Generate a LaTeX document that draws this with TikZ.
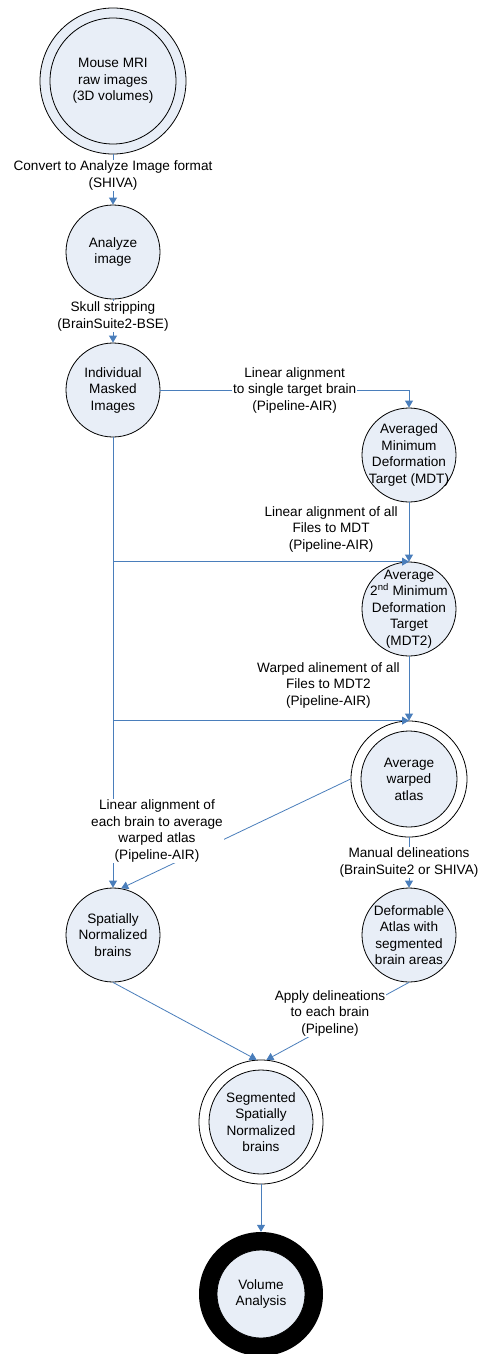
\documentclass[tikz,border=0pt]{standalone}
\usepackage{fontspec}
\setmainfont{Liberation Sans}
\usetikzlibrary{arrows.meta}
\definecolor{stagefill}{HTML}{E8EEF7}
\definecolor{flowblue}{HTML}{4A7EBB}

\begin{document}
\begin{tikzpicture}[x=1pt, y=-1pt,
    every node/.style={font=\fontsize{13.6}{16.5}\selectfont},
    stage/.style={circle, draw, line width=0.8pt, fill=stagefill, align=center, inner sep=-20pt, minimum size=94pt},
    ring/.style={circle, draw, line width=0.8pt, fill=white, inner sep=0pt},
    lbl/.style={align=center, fill=white, inner sep=1pt},
    flow/.style={draw=flowblue, line width=0.8pt, -{Triangle[width=8pt,length=7pt]}}]
  \useasboundingbox (0,0) rectangle (480,1354);

  % stages
  \node[stage, minimum size=146pt] (mri) at (113,81) {};
  \node[stage, minimum size=126pt] (mriin) at (mri) {Mouse MRI\\raw images\\(3D volumes)};
  \node[stage] (ana) at (113,252) {Analyze\\image};
  \node[stage] (ind) at (113,390) {Individual\\Masked\\Images};
  \node[stage] (mdt) at (409,455) {Averaged\\Minimum\\Deformation\\Target (MDT)};
  \node[stage] (mdt2) at (409,609) {Average\\2\textsuperscript{nd} Minimum\\Deformation\\Target\\(MDT2)};
  \node[ring, minimum size=116pt] (atlas) at (409,779) {};
  \node[stage, minimum size=96pt] (atlasin) at (atlas) {Average\\warped\\atlas};
  \node[stage] (spat) at (113,935) {Spatially\\Normalized\\brains};
  \node[stage] (defo) at (409,935) {Deformable\\Atlas with\\segmented\\brain areas};
  \node[ring, minimum size=124pt] (seg) at (261,1122) {};
  \node[stage, minimum size=104pt] (segin) at (seg) {Segmented\\Spatially\\Normalized\\brains};
  \node[circle, fill=black, inner sep=0pt, minimum size=124pt] (volring) at (261,1294) {};
  \node[stage, minimum size=88pt] (vol) at (volring) {Volume\\Analysis};

  % flow
  \draw[flow] (mri) -- node[lbl, pos=0.42] {Convert to Analyze Image format\\(SHIVA)} (ana);
  \draw[flow] (ana) -- node[lbl, pos=0.4] {Skull stripping\\(BrainSuite2-BSE)} (ind);
  \draw[flow] (ind) -| node[lbl, pos=0.27] {Linear alignment\\to single target brain\\(Pipeline-AIR)} (mdt);
  \draw[flow] (ind) -- (spat);
  \coordinate (j1) at (ind |- mdt2.north);
  \coordinate (j2) at (ind |- atlas.north);
  \draw[flow] (j1) -- (mdt2.north);
  \draw[flow] (j2) -- (atlas.north);
  \draw[flow] (mdt) -- node[lbl, left=10pt, pos=0.45] {Linear alignment of all\\Files to MDT\\(Pipeline-AIR)} (mdt2);
  \draw[flow] (mdt2) -- node[lbl, left=8pt, pos=0.45] {Warped alinement of all\\Files to MDT2\\(Pipeline-AIR)} (atlas);
  \draw[flow] (atlas.west) -- (spat.80);
  \draw[flow] (atlas) -- node[lbl] {Manual delineations\\(BrainSuite2 or SHIVA)} (defo);
  \draw[flow] (spat.south) -- (seg.94);
  \draw[flow] (defo.south) -- (seg.85);
  \draw[flow] (seg) -- (volring);

  \node[lbl] (warplbl) at (157,831) {Linear alignment of\\each brain to average\\warped atlas\\(Pipeline-AIR)};
  \node[lbl] (applylbl) at (330,1013) {Apply delineations\\to each brain\\(Pipeline)};
\end{tikzpicture}
\end{document}
